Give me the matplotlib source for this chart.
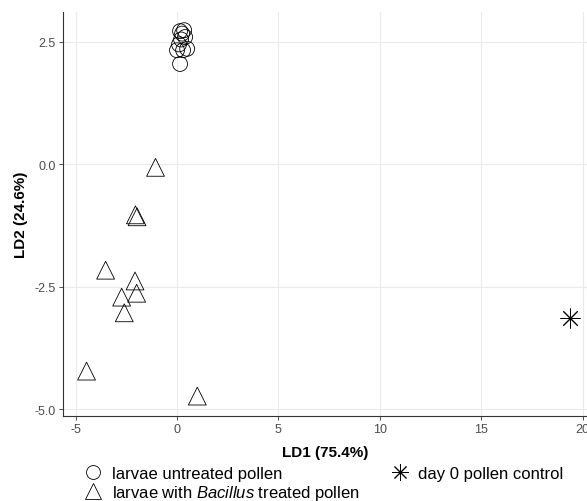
import matplotlib
matplotlib.use("Agg")
import matplotlib.pyplot as plt
from matplotlib.lines import Line2D

# LDA scores
untreated_ld1 = [0.15, 0.35, 0.25, 0.40, 0.20, 0.10, 0.00, 0.30, 0.50, 0.15]
untreated_ld2 = [2.72, 2.74, 2.67, 2.60, 2.55, 2.45, 2.33, 2.33, 2.36, 2.05]

bacillus_ld1 = [-1.06, -2.05, -1.97, -3.52, -2.07, -1.99, -2.73, -2.60, -4.46, 1.00]
bacillus_ld2 = [-0.06, -1.03, -1.07, -2.16, -2.38, -2.63, -2.71, -3.03, -4.22, -4.73]

control_ld1 = [19.38]
control_ld2 = [-3.13]

x_ticks = [-5, 0, 5, 10, 15, 20]
y_ticks = [2.5, 0.0, -2.5, -5.0]

plt.rcParams.update({
    "font.family": ["Liberation Sans", "DejaVu Sans"],
    "mathtext.fontset": "custom",
    "mathtext.rm": "Liberation Sans",
    "mathtext.it": "Liberation Sans:italic",
})

fig = plt.figure(figsize=(5.87, 5.02), dpi=100)
ax = fig.add_axes([0.107, 0.169, 0.893, 0.805])

ax.scatter(untreated_ld1, untreated_ld2, s=115, marker="o", facecolors="none",
           edgecolors="black", linewidths=0.6, zorder=3)
ax.scatter(bacillus_ld1, bacillus_ld2, s=165, marker="^", facecolors="none",
           edgecolors="black", linewidths=0.6, zorder=3)
ax.scatter(control_ld1, control_ld2, s=190, marker=(8, 2, 0), color="black",
           linewidths=0.7, zorder=3)

ax.set_xlim(-5.63, 20.21)
ax.set_ylim(-5.14, 3.11)
ax.set_xticks(x_ticks)
ax.set_xticklabels([str(t) for t in x_ticks])
ax.set_yticks(y_ticks)
ax.set_yticklabels([f"{t:.1f}" for t in y_ticks])

ax.grid(True, color="#EBEBEB", linewidth=0.8)
ax.set_axisbelow(True)
for side in ("top", "right"):
    ax.spines[side].set_visible(False)
for side in ("left", "bottom"):
    ax.spines[side].set_color("#333333")
    ax.spines[side].set_linewidth(0.8)
ax.tick_params(axis="both", labelsize=9, labelcolor="#4D4D4D", color="#333333",
               length=3, width=0.6, pad=2)

ax.set_xlabel("LD1 (75.4%)", fontsize=11, fontweight="bold", labelpad=7)
ax.set_ylabel("LD2 (24.6%)", fontsize=11, fontweight="bold", labelpad=5)

handles = [
    Line2D([], [], linestyle="none", marker="o", markersize=10, markerfacecolor="none",
           markeredgecolor="black", markeredgewidth=0.6, label="larvae untreated pollen"),
    Line2D([], [], linestyle="none", marker="^", markersize=12, markerfacecolor="none",
           markeredgecolor="black", markeredgewidth=0.6,
           label=r"larvae with $\it{Bacillus}$ treated pollen"),
    Line2D([], [], linestyle="none", marker=(8, 2, 0), markersize=12, color="black",
           markeredgewidth=0.7, label="day 0 pollen control"),
]
fig.legend(handles=handles, loc="lower left", bbox_to_anchor=(0.132, -0.016), ncol=2,
           frameon=False, fontsize=12, handlelength=1.0, handletextpad=0.6,
           labelspacing=0.1, columnspacing=1.95, borderaxespad=0.05)

fig.savefig("out.png", dpi=100)
